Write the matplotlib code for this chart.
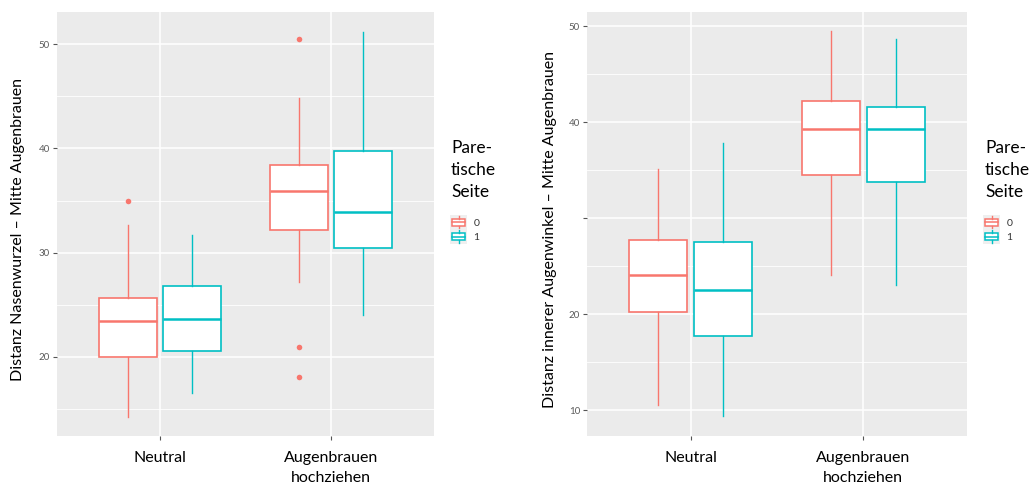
import matplotlib
matplotlib.use('Agg')
import matplotlib.pyplot as plt
from matplotlib.patches import Patch, Rectangle
from matplotlib.lines import Line2D
from matplotlib.legend_handler import HandlerBase

plt.rcParams['font.family'] = ['Lato', 'DejaVu Sans']

conditions = ['Neutral', 'Augenbrauen\nhochziehen']
sides = ['0', '1']
colors = ['#F8766D', '#00BFC4']

# left panel: Nasenwurzel - Mitte Augenbrauen (rows = side 0 / 1, cols = condition)
nase_lo = [[14.2, 27.2], [16.5, 24.0]]
nase_q1 = [[20.0, 32.2], [20.6, 30.4]]
nase_med = [[23.4, 35.9], [23.6, 33.9]]
nase_q3 = [[25.6, 38.4], [26.8, 39.8]]
nase_hi = [[32.7, 44.8], [31.7, 51.2]]
nase_fliers = [[[35.0], [50.5, 20.9, 18.1]], [[], []]]

# right panel: innerer Augenwinkel - Mitte Augenbrauen
auge_lo = [[10.5, 24.1], [9.4, 23.0]]
auge_q1 = [[20.2, 34.5], [17.7, 33.8]]
auge_med = [[24.1, 39.3], [22.5, 39.3]]
auge_q3 = [[27.7, 42.2], [27.5, 41.6]]
auge_hi = [[35.1, 49.5], [37.8, 48.7]]
auge_fliers = [[[], []], [[], []]]


class BoxKeyHandler(HandlerBase):
    def create_artists(self, legend, orig_handle, xdescent, ydescent, width, height, fontsize, trans):
        c = orig_handle.get_edgecolor()
        x0, y0 = -xdescent, -ydescent
        bg = Rectangle((x0, y0), width, height, fc='#EFEFEF', ec='none', transform=trans)
        box = Rectangle((x0 + width * 0.1, y0 + height * 0.25), width * 0.8, height * 0.5,
                        fc='white', ec=c, lw=1.1, transform=trans)
        med = Line2D([x0 + width * 0.1, x0 + width * 0.9], [y0 + height * 0.5] * 2, color=c, lw=1.1, transform=trans)
        wt = Line2D([x0 + width * 0.5] * 2, [y0 + height * 0.75, y0 + height * 0.95], color=c, lw=1.0, transform=trans)
        wb = Line2D([x0 + width * 0.5] * 2, [y0 + height * 0.05, y0 + height * 0.25], color=c, lw=1.0, transform=trans)
        return [bg, box, med, wt, wb]


def drawPanel(ax, lo, q1, med, q3, hi, fliers, yticks, ylabels, ylim, ylabel, labelx):
    ax.set_facecolor('#EBEBEB')
    for s in range(2):
        stats = []
        for c in range(2):
            stats.append(dict(whislo=lo[s][c], q1=q1[s][c], med=med[s][c], q3=q3[s][c],
                              whishi=hi[s][c], fliers=fliers[s][c]))
        pos = [c + 1 + (s - 0.5) * 0.375 for c in range(2)]
        ax.bxp(stats, positions=pos, widths=0.3375, showcaps=False, patch_artist=True,
               boxprops=dict(facecolor='white', edgecolor=colors[s], linewidth=1.2),
               medianprops=dict(color=colors[s], linewidth=1.8),
               whiskerprops=dict(color=colors[s], linewidth=1.0),
               flierprops=dict(marker='o', markerfacecolor=colors[s], markeredgecolor='none', markersize=4),
               manage_ticks=False, zorder=3)

    ax.set_xlim(0.4, 2.6)
    ax.set_ylim(*ylim)
    ax.set_xticks([1, 2])
    ax.set_xticklabels(conditions, fontsize=11.5, color='black', linespacing=1.55)
    ax.set_yticks(yticks)
    ax.set_yticklabels(ylabels, fontsize=7, color='#5a5a5a')
    ax.set_yticks([15, 25, 35, 45], minor=True)
    ax.tick_params(axis='both', which='major', length=3, color='#555555', width=0.8)
    ax.tick_params(axis='x', pad=8)
    ax.tick_params(axis='y', pad=2)
    ax.tick_params(which='minor', length=0)
    ax.grid(which='major', color='white', lw=1.1)
    ax.grid(which='minor', color='white', lw=0.6)
    ax.set_axisbelow(True)
    for sp in ax.spines.values():
        sp.set_visible(False)
    ax.set_ylabel(ylabel, fontsize=11.5)
    ax.yaxis.set_label_coords(labelx, 0.487)


fig = plt.figure(figsize=(10.31, 4.88), dpi=100)
axL = fig.add_axes([57 / 1031, 1 - 436 / 488, 377 / 1031, 424 / 488])
axR = fig.add_axes([587 / 1031, 1 - 436 / 488, 380 / 1031, 424 / 488])

drawPanel(axL, nase_lo, nase_q1, nase_med, nase_q3, nase_hi, nase_fliers,
          [20, 30, 40, 50], ['20', '30', '40', '50'], (12.4, 53.1),
          'Distanz Nasenwurzel – Mitte Augenbrauen', -0.085)
drawPanel(axR, auge_lo, auge_q1, auge_med, auge_q3, auge_hi, auge_fliers,
          [10, 20, 30, 40, 50], ['10', '20', '', '40', '50'], (7.3, 51.5),
          'Distanz innerer Augenwinkel – Mitte Augenbrauen', -0.08)

# legends
handles = [Patch(edgecolor=c, facecolor='white') for c in colors]
for lx, tx in [(450, 451), (983, 985)]:
    fig.text(tx / 1031, 1 - 140 / 488, 'Pare-\ntische\nSeite', fontsize=12.5, va='top', ha='left',
             linespacing=1.45)
    fig.legend(handles, sides, handler_map={Patch: BoxKeyHandler()}, loc='upper left',
               bbox_to_anchor=(lx / 1031, 1 - 215 / 488), frameon=False, fontsize=7.5,
               labelspacing=0, handlelength=1.65, handleheight=1.75, handletextpad=0.6,
               borderpad=0, borderaxespad=0, labelcolor='#333333')

fig.savefig('out.png', dpi=100)
